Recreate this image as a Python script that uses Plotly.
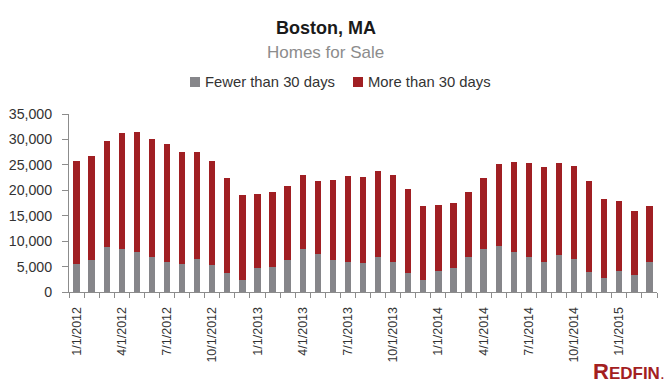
import plotly.graph_objects as go

months = [f"{m}/1/{y}" for y in (2012, 2013, 2014, 2015) for m in range(1, 13)][:39]
total = [25850, 26830, 29780, 31350, 31540, 30170, 29190, 27620, 27620, 25850, 22510, 18980,
         19180, 19570, 20940, 23100, 21920, 22120, 22900, 22710, 23890, 23100, 20160, 16820,
         17020, 17410, 19760, 22510, 25260, 25650, 25460, 24670, 25460, 24870, 21730, 18190,
         17800, 15840, 16820]
fewer = [5430, 6220, 8770, 8380, 7790, 6810, 5820, 5430, 6410, 5240, 3660, 2290,
         4650, 4840, 6220, 8380, 7400, 6220, 5820, 5630, 6810, 5820, 3660, 2290,
         4060, 4650, 6810, 8380, 8970, 7790, 6810, 5820, 7200, 6410, 3860, 2680,
         4060, 3270, 5820]
more = [t - f for t, f in zip(total, fewer)]
yticks = [0, 5000, 10000, 15000, 20000, 25000, 30000, 35000]
series_names = ["Fewer than 30 days", "More than 30 days"]

x = list(range(len(months)))
label_idx = list(range(0, len(months), 3))

GRAY = "#86868A"
RED = "#A01F23"
FONT = "Liberation Sans, Arial, sans-serif"

# The page body has an 8px default margin; size the figure to fit the 672x384 view.
OFF = 8
W, H = 672 - OFF, 384 - OFF
PL, PR, PT, PB = 69, 657, 114, 292  # plot area in page pixels
ML, MT = PL - OFF, PT - OFF
MR = W - (PR - OFF)
MB = H - (PB - OFF)
PW, PH = PR - PL, PB - PT


def px(xp):
    return (xp - PL) / PW


def py(yp):
    return (PB - yp) / PH


fig = go.Figure()
fig.add_trace(go.Bar(x=x, y=fewer, name=series_names[0], marker_color=GRAY, marker_line_width=0))
fig.add_trace(go.Bar(x=x, y=more, name=series_names[1], marker_color=RED, marker_line_width=0))

legend_items = [(190, GRAY, series_names[0]), (353, RED, series_names[1])]
shapes = []
annotations = []
for lx, col, name in legend_items:
    shapes.append(dict(type="rect", xref="paper", yref="paper",
                       x0=px(lx), x1=px(lx + 10), y0=py(87), y1=py(77),
                       fillcolor=col, line_width=0))
    annotations.append(dict(text=name, x=px(lx + 13), y=py(82),
                            xref="paper", yref="paper", showarrow=False,
                            xanchor="left", yanchor="middle",
                            font=dict(size=14.8, color="#333333", family=FONT)))

annotations += [
    dict(text="<b>Boston, MA</b>", x=px(326), y=py(27.5),
         xref="paper", yref="paper", showarrow=False,
         font=dict(size=18, color="#1a1a1a", family=FONT),
         xanchor="center", yanchor="middle"),
    dict(text="Homes for Sale", x=px(325.5), y=py(52),
         xref="paper", yref="paper", showarrow=False,
         font=dict(size=17, color="#8C8C8C", family=FONT),
         xanchor="center", yanchor="middle"),
    dict(text="<b><span style='font-size:22px'>R</span>EDFIN</b>.", x=px(667),
         y=py(371), xref="paper", yref="paper", showarrow=False,
         font=dict(size=17, color="#A3201F", family=FONT),
         xanchor="right", yanchor="middle"),
]

fig.update_layout(
    width=W, height=H,
    barmode="stack", bargap=0.58,
    margin=dict(l=ML, r=MR, t=MT, b=MB, pad=0),
    paper_bgcolor="white", plot_bgcolor="white",
    font=dict(family=FONT, color="#404040"),
    showlegend=False,
    xaxis=dict(range=[-0.5, len(months) - 0.5], tickvals=[x[i] for i in label_idx],
               ticktext=[months[i] for i in label_idx], tickangle=-90,
               ticks="", showgrid=False, zeroline=False, automargin=False,
               showline=True, linecolor="#8C8C8C", linewidth=1,
               tickfont=dict(size=12.5, color="#333333"), ticklabelstandoff=9,
               minor=dict(tick0=-0.5, dtick=1, ticks="outside", ticklen=5,
                          tickcolor="#8C8C8C", tickwidth=1, showgrid=False)),
    yaxis=dict(range=[0, 35000], tickvals=yticks, tickformat=",d",
               ticks="outside", ticklen=6, tickcolor="#8C8C8C",
               showgrid=False, zeroline=False, automargin=False,
               showline=True, linecolor="#8C8C8C", linewidth=1,
               tickfont=dict(size=14.2, color="#333333"), ticklabelstandoff=7),
    shapes=shapes,
    annotations=annotations,
)

fig.write_html("out.html")
